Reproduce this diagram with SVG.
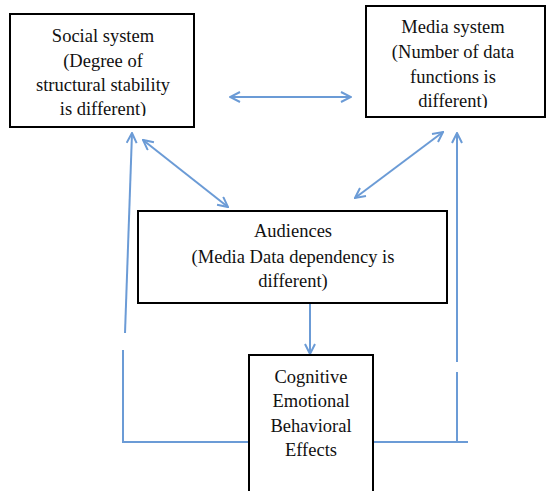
<svg xmlns="http://www.w3.org/2000/svg" width="546" height="491" viewBox="0 0 546 491">
<style>
.box{fill:#fff;stroke:#000;stroke-width:2}
.t{font-family:"Liberation Serif","Times New Roman",serif;font-size:18.5px;fill:#111;text-anchor:middle}
.c{fill:none;stroke:#6b9bd6;stroke-width:2}
</style>
<defs>
<marker id="ah" viewBox="0 0 12 12" refX="11" refY="6" markerWidth="12" markerHeight="12" markerUnits="userSpaceOnUse" orient="auto-start-reverse">
<path d="M1,1 L11,6 L1,11" fill="none" stroke="#6b9bd6" stroke-width="2"/>
</marker>
<clipPath id="cs"><rect x="10" y="14" width="184" height="102"/></clipPath>
<clipPath id="cm"><rect x="366" y="6" width="180" height="102"/></clipPath>
</defs>
<g id="connectors">
<line class="c" x1="230" y1="97" x2="351" y2="97" marker-start="url(#ah)" marker-end="url(#ah)"/>
<line class="c" x1="143" y1="140" x2="228" y2="207" marker-start="url(#ah)" marker-end="url(#ah)"/>
<line class="c" x1="443" y1="132" x2="355" y2="198" marker-start="url(#ah)" marker-end="url(#ah)"/>
<line class="c" x1="310" y1="303" x2="310" y2="354" marker-end="url(#ah)"/>
<polyline class="c" points="249,442 123,442 123,350"/>
<line class="c" x1="125" y1="333" x2="132" y2="133" marker-end="url(#ah)"/>
<polyline class="c" points="373,442 468,442"/>
<line class="c" x1="457" y1="442" x2="457" y2="372"/>
<line class="c" x1="457" y1="362" x2="457" y2="133" marker-end="url(#ah)"/>
</g>
<g id="social">
<rect class="box" x="10" y="14" width="184" height="113"/>
<g clip-path="url(#cs)">
<text class="t" x="103" y="42">Social system</text>
<text class="t" x="103" y="67">(Degree of</text>
<text class="t" x="103" y="91">structural stability</text>
<text class="t" x="103" y="115">is different)</text>
</g>
</g>
<g id="media">
<rect class="box" x="366" y="6" width="179" height="111"/>
<g clip-path="url(#cm)">
<text class="t" x="453" y="33">Media system</text>
<text class="t" x="453" y="58">(Number of data</text>
<text class="t" x="453" y="83">functions is</text>
<text class="t" x="453" y="107">different)</text>
</g>
</g>
<g id="audiences">
<rect class="box" x="138" y="211" width="309" height="92"/>
<text class="t" x="293" y="237">Audiences</text>
<text class="t" x="293" y="263">(Media Data dependency is</text>
<text class="t" x="293" y="287">different)</text>
</g>
<g id="effects">
<rect class="box" x="249" y="355" width="124" height="140"/>
<text class="t" x="311" y="383">Cognitive</text>
<text class="t" x="311" y="407">Emotional</text>
<text class="t" x="311" y="432">Behavioral</text>
<text class="t" x="311" y="456">Effects</text>
</g>
</svg>
